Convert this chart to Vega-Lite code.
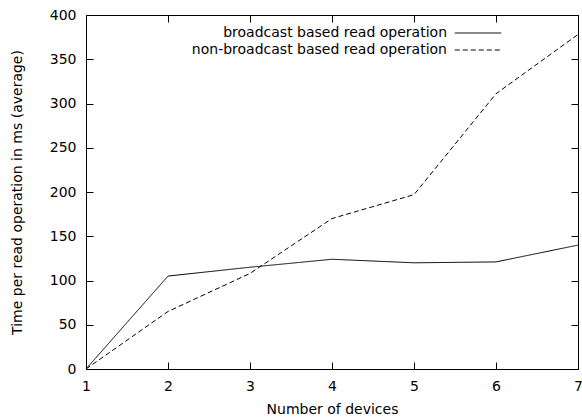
{
  "$schema": "https://vega.github.io/schema/vega-lite/v6.json",
  "width": 492,
  "height": 354,
  "autosize": {"type": "none"},
  "padding": {"left": 86, "top": 15, "right": 4, "bottom": 50},
  "background": "white",
  "config": {
    "font": "DejaVu Sans",
    "view": {"stroke": "black", "strokeWidth": 1},
    "axis": {
      "domainColor": "black", "tickColor": "black", "labelColor": "black", "titleColor": "black",
      "labelFont": "DejaVu Sans", "titleFont": "DejaVu Sans",
      "labelFontSize": 14, "titleFontSize": 14, "titleFontWeight": "normal",
      "grid": false, "domainWidth": 1, "tickWidth": 1
    }
  },
  "data": {"values": [
    {"devices": 1, "time": 0, "series": "broadcast based read operation"},
    {"devices": 2, "time": 105, "series": "broadcast based read operation"},
    {"devices": 3, "time": 115, "series": "broadcast based read operation"},
    {"devices": 4, "time": 124, "series": "broadcast based read operation"},
    {"devices": 5, "time": 120, "series": "broadcast based read operation"},
    {"devices": 6, "time": 121, "series": "broadcast based read operation"},
    {"devices": 7, "time": 140, "series": "broadcast based read operation"},
    {"devices": 1, "time": 0, "series": "non-broadcast based read operation"},
    {"devices": 2, "time": 65, "series": "non-broadcast based read operation"},
    {"devices": 3, "time": 108, "series": "non-broadcast based read operation"},
    {"devices": 4, "time": 170, "series": "non-broadcast based read operation"},
    {"devices": 5, "time": 197, "series": "non-broadcast based read operation"},
    {"devices": 6, "time": 311, "series": "non-broadcast based read operation"},
    {"devices": 7, "time": 378, "series": "non-broadcast based read operation"}
  ]},
  "layer": [
    {
      "mark": {"type": "line", "color": "black", "strokeWidth": 1},
      "encoding": {
        "x": {"field": "devices", "type": "quantitative", "scale": {"domain": [1, 7], "nice": false},
              "axis": {"orient": "bottom", "offset": -7, "tickSize": 7, "domain": false, "title": "Number of devices", "values": [1,2,3,4,5,6,7], "labelPadding": 10, "titlePadding": 9, "labelFlush": false}},
        "y": {"field": "time", "type": "quantitative", "scale": {"domain": [0, 400], "nice": false},
              "axis": {"orient": "left", "offset": -7, "tickSize": 7, "domain": false, "title": "Time per read operation in ms (average)", "values": [0,50,100,150,200,250,300,350,400], "labelPadding": 10, "titlePadding": 25, "labelFlush": false}},
        "strokeDash": {"field": "series", "type": "nominal",
          "scale": {"domain": ["broadcast based read operation", "non-broadcast based read operation"], "range": [[1, 0], [5, 3]]},
          "legend": {"title": null, "orient": "none", "legendX": 385, "legendY": 11, "padding": 0,
                     "symbolType": "M-5.8,0H5.8", "symbolSize": 64, "symbolStrokeColor": "black", "symbolStrokeWidth": 1, "symbolFillColor": "transparent",
                     "rowPadding": 3,
                     "labelAlign": "right", "labelOffset": -38, "labelFontSize": 14, "labelFont": "DejaVu Sans", "labelColor": "black",
                     "labelLimit": 400}
        },
        "detail": {"field": "series"}
      }
    },
    {
      "mark": {"type": "point", "opacity": 0},
      "encoding": {
        "x": {"field": "devices", "type": "quantitative", "scale": {"domain": [1, 7], "nice": false},
              "axis": {"orient": "top", "offset": -7, "tickSize": 7, "title": null, "labels": false, "domain": false, "values": [1,2,3,4,5,6,7]}},
        "y": {"field": "time", "type": "quantitative", "scale": {"domain": [0, 400], "nice": false},
              "axis": {"orient": "right", "offset": -7, "tickSize": 7, "title": null, "labels": false, "domain": false, "values": [0,50,100,150,200,250,300,350,400]}}
      }
    }
  ],
  "resolve": {"axis": {"x": "independent", "y": "independent"}}
}
